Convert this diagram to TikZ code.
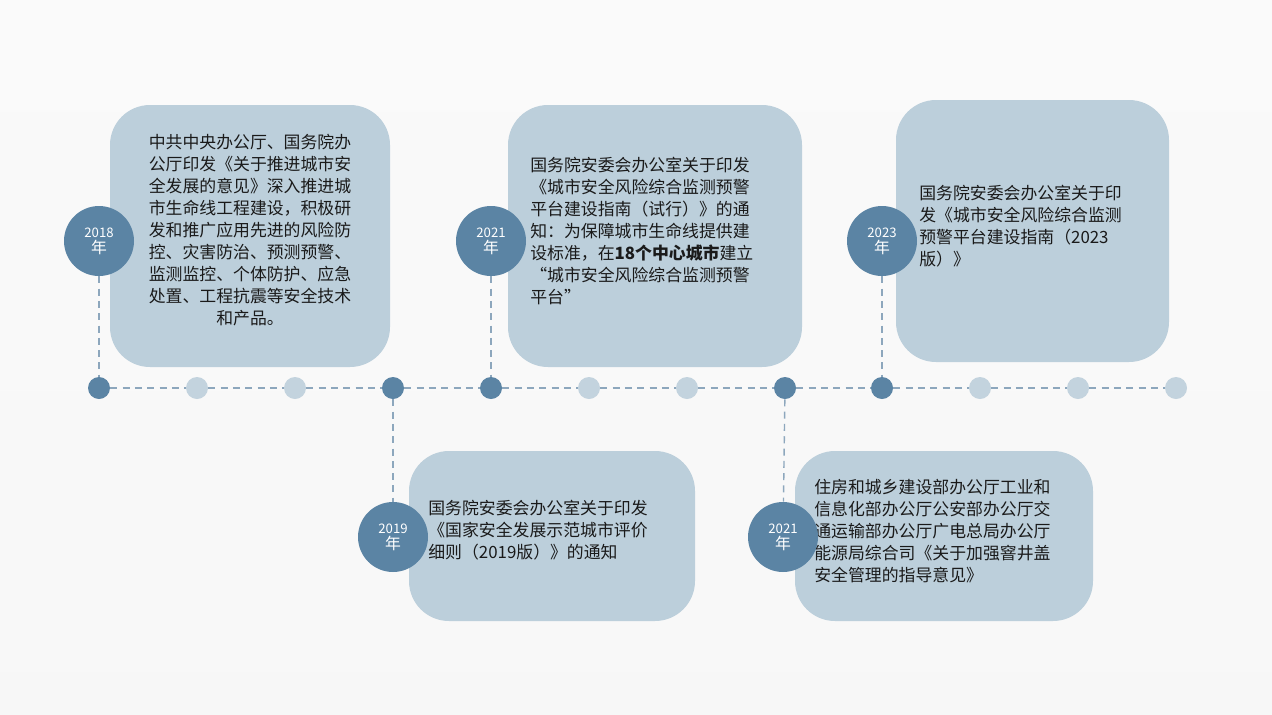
\documentclass[tikz,border=0pt]{standalone}
\usepackage{fontspec}
\setmainfont{Noto Sans CJK SC}
\begin{document}
\begin{tikzpicture}[x=0.02cm,y=-0.02cm,
  box/.style={draw=none,fill=boxc,rounded corners=40*0.02cm},
  yr/.style={circle,fill=darkc,minimum size=70*0.02cm,inner sep=0pt,text=white,align=center,font=\fontsize{7.5}{9}\selectfont},
  dk/.style={circle,fill=darkc,minimum size=22*0.02cm,inner sep=0pt},
  lt/.style={circle,fill=lightc,minimum size=22*0.02cm,inner sep=0pt},
  tl/.style={draw=linec,dashed,line width=0.8pt,dash pattern=on 4pt off 3pt},
  txt/.style={anchor=north west,inner sep=0pt,align=left,text=textc,font=\fontsize{9.6}{12.5}\selectfont}]
\definecolor{boxc}{HTML}{BCCFDB}
\definecolor{darkc}{HTML}{5B84A4}
\definecolor{lightc}{HTML}{C3D3DE}
\definecolor{linec}{HTML}{8DA7BD}
\definecolor{textc}{HTML}{1A1A1A}
\shade[top color=white!96!gray,bottom color=white!94!gray] (0,0) rectangle (1272,714);
\useasboundingbox (0,0) rectangle (1272,714);
% boxes
\path[box] (110,105) rectangle (390,367);
\path[box] (508,105) rectangle (802,367);
\path[box] (896,100) rectangle (1169,362);
\path[box] (409,451) rectangle (695,621);
\path[box] (795,451) rectangle (1093,621);
% texts
\node[txt,anchor=north,align=center] (t1) at (250,134) {中共中央办公厅、国务院办\\公厅印发《关于推进城市安\\全发展的意见》深入推进城\\市生命线工程建设，积极研\\发和推广应用先进的风险防\\控、灾害防治、预测预警、\\监测监控、个体防护、应急\\处置、工程抗震等安全技术\\和产品。};
\node[txt] (t2) at (530,157) {国务院安委会办公室关于印发\\《城市安全风险综合监测预警\\平台建设指南（试行）》的通\\知：为保障城市生命线提供建\\设标准，在\textbf{18个中心城市}建立\\“城市安全风险综合监测预警\\平台”};
\node[txt] (t3) at (919,185) {国务院安委会办公室关于印\\发《城市安全风险综合监测\\预警平台建设指南（2023\\版）》};
\node[txt] (t4) at (428,500) {国务院安委会办公室关于印发\\《国家安全发展示范城市评价\\细则（2019版）》的通知};
\node[txt] (t5) at (814,479) {住房和城乡建设部办公厅工业和\\信息化部办公厅公安部办公厅交\\通运输部办公厅广电总局办公厅\\能源局综合司《关于加强窨井盖\\安全管理的指导意见》};
% year circles
\node[yr] (y1) at (99,241) {2018\\{\fontsize{9}{10}\selectfont 年}};
\node[yr] (y2) at (491,241) {2021\\{\fontsize{9}{10}\selectfont 年}};
\node[yr] (y3) at (882,241) {2023\\{\fontsize{9}{10}\selectfont 年}};
\node[yr] (y4) at (393,537) {2019\\{\fontsize{9}{10}\selectfont 年}};
\node[yr] (y5) at (783,537) {2021\\{\fontsize{9}{10}\selectfont 年}};
% dots
\node[dk] (d1) at (99,388) {};
\node[lt] (d2) at (197,388) {};
\node[lt] (d3) at (295,388) {};
\node[dk] (d4) at (393,388) {};
\node[dk] (d5) at (491,388) {};
\node[lt] (d6) at (589,388) {};
\node[lt] (d7) at (687,388) {};
\node[dk] (d8) at (785,388) {};
\node[dk] (d9) at (882,388) {};
\node[lt] (d10) at (980,388) {};
\node[lt] (d11) at (1078,388) {};
\node[lt] (d12) at (1176,388) {};
\foreach \a/\b in {1/2,2/3,3/4,4/5,5/6,6/7,7/8,8/9,9/10,10/11,11/12}
  \draw[tl] (d\a) -- (d\b);
\draw[tl] (y1) -- (d1);
\draw[tl] (y2) -- (d5);
\draw[tl] (y3) -- (d9);
\draw[tl] (d4) -- (y4);
\draw[tl] (d8) -- (y5);
\end{tikzpicture}
\end{document}
